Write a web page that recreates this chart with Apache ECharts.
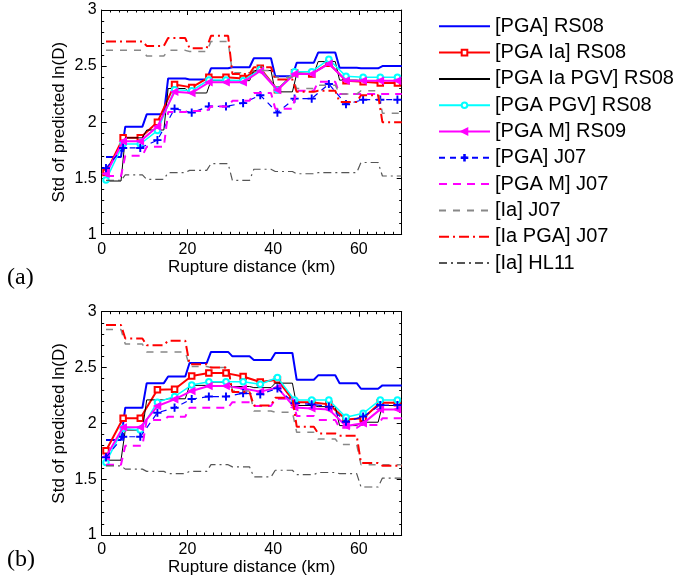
<!DOCTYPE html>
<html><head><meta charset="utf-8">
<script src="https://cdn.jsdelivr.net/npm/echarts@6/dist/echarts.min.js"></script>
<style>html,body{margin:0;padding:0;background:#fff}#c{width:678px;height:586px}</style>
</head><body><div id="c"></div>
<script>
// ---------- data ----------
const seriesNames = ['[PGA] RS08', '[PGA Ia] RS08', '[PGA Ia PGV] RS08', '[PGA PGV] RS08', '[PGA M] RS09',
                     '[PGA] J07', '[PGA M] J07', '[Ia] J07', '[Ia PGA] J07', '[Ia] HL11'];
const xTicks = [0, 20, 40, 60];
const yTicks = [1, 1.5, 2, 2.5, 3];
// sample distances (km) of the marked curves
const pointX = [1, 5, 9, 13, 17, 21, 25, 29, 33, 37, 41, 45, 49, 53, 57, 61, 65, 69];
// 5-km distance bins of the stepwise curves
const binStart = [1, 5.5, 10.5, 15.5, 20.5, 25.5, 30.5, 35.5, 40.5, 45.5, 50.5, 55.5, 60.5, 65.5];
const binEnd   = [4.5, 9.5, 14.5, 19.5, 24.5, 29.5, 34.5, 39.5, 44.5, 49.5, 54.5, 59.5, 64.5, 70];

// panel (a)
const a_PGA_RS08      = [1.69, 1.96, 2.07, 2.39, 2.38, 2.48, 2.49, 2.57, 2.41, 2.53, 2.62, 2.485, 2.48, 2.50];
const a_PGAIa_RS08    = [1.55, 1.86, 1.86, 2.00, 2.335, 2.31, 2.40, 2.40, 2.39, 2.48, 2.29, 2.44, 2.43, 2.525, 2.37, 2.36, 2.35, 2.35];
const a_PGAIaPGV_RS08 = [1.475, 1.86, 1.93, 2.30, 2.26, 2.37, 2.37, 2.46, 2.27, 2.43, 2.54, 2.375, 2.37, 2.37];
const a_PGAPGV_RS08   = [1.485, 1.805, 1.805, 1.925, 2.29, 2.28, 2.376, 2.376, 2.37, 2.47, 2.287, 2.45, 2.45, 2.56, 2.41, 2.40, 2.40, 2.40];
const a_PGAM_RS09     = [1.54, 1.83, 1.83, 1.96, 2.27, 2.26, 2.355, 2.355, 2.355, 2.456, 2.287, 2.43, 2.43, 2.52, 2.37, 2.37, 2.37, 2.37];
const a_PGA_J07       = [1.59, 1.77, 1.77, 1.84, 2.12, 2.085, 2.14, 2.14, 2.17, 2.24, 2.085, 2.21, 2.21, 2.34, 2.16, 2.20, 2.20, 2.20];
const a_PGAM_J07      = [1.52, 1.70, 1.78, 2.09, 2.10, 2.14, 2.19, 2.26, 2.12, 2.28, 2.36, 2.25, 2.25, 2.25];
const a_Ia_J07        = [2.64, 2.64, 2.59, 2.64, 2.63, 2.72, 2.44, 2.46, 2.40, 2.30, 2.33, 2.25, 2.28, 2.08];
const a_IaPGA_J07     = [2.72, 2.72, 2.68, 2.75, 2.66, 2.77, 2.43, 2.49, 2.38, 2.27, 2.28, 2.18, 2.24, 2.00];
const a_Ia_HL11       = [1.48, 1.53, 1.49, 1.55, 1.57, 1.63, 1.48, 1.58, 1.56, 1.54, 1.55, 1.55, 1.64, 1.52];

// panel (b)
const b_PGA_RS08      = [1.85, 2.14, 2.36, 2.42, 2.54, 2.64, 2.60, 2.567, 2.63, 2.39, 2.43, 2.36, 2.31, 2.34];
const b_PGAIa_RS08    = [1.755, 2.045, 2.045, 2.30, 2.305, 2.424, 2.45, 2.45, 2.42, 2.37, 2.39, 2.19, 2.19, 2.17, 2.035, 2.045, 2.185, 2.185];
const b_PGAIaPGV_RS08 = [1.67, 1.94, 2.21, 2.22, 2.34, 2.37, 2.33, 2.32, 2.36, 2.16, 2.15, 1.98, 2.01, 2.16];
const b_PGAPGV_RS08   = [1.65, 1.955, 1.94, 2.19, 2.24, 2.343, 2.373, 2.373, 2.373, 2.35, 2.41, 2.21, 2.21, 2.21, 2.054, 2.09, 2.21, 2.21];
const b_PGAM_RS09     = [1.70, 1.964, 1.964, 2.155, 2.215, 2.29, 2.334, 2.334, 2.313, 2.284, 2.32, 2.143, 2.134, 2.125, 1.976, 2.00, 2.125, 2.125];
const b_PGA_J07       = [1.695, 1.88, 1.88, 2.095, 2.14, 2.218, 2.24, 2.24, 2.27, 2.26, 2.313, 2.18, 2.17, 2.15, 2.015, 2.06, 2.164, 2.164];
const b_PGAM_J07      = [1.63, 1.80, 2.03, 2.06, 2.14, 2.14, 2.19, 2.155, 2.22, 2.066, 2.03, 1.96, 1.985, 2.045];
const b_Ia_J07        = [2.84, 2.71, 2.64, 2.64, 2.51, 2.50, 2.29, 2.11, 2.10, 1.92, 1.86, 1.81, 1.63, 1.63];
const b_IaPGA_J07     = [2.88, 2.76, 2.70, 2.74, 2.53, 2.50, 2.28, 2.16, 2.23, 1.97, 1.91, 1.89, 1.645, 1.62];
const b_Ia_HL11       = [1.62, 1.59, 1.57, 1.55, 1.57, 1.63, 1.61, 1.52, 1.58, 1.54, 1.56, 1.55, 1.43, 1.51];

// ---------- build ----------
const panelData = [
  [a_PGA_RS08, a_PGAIa_RS08, a_PGAIaPGV_RS08, a_PGAPGV_RS08, a_PGAM_RS09, a_PGA_J07, a_PGAM_J07, a_Ia_J07, a_IaPGA_J07, a_Ia_HL11],
  [b_PGA_RS08, b_PGAIa_RS08, b_PGAIaPGV_RS08, b_PGAPGV_RS08, b_PGAM_RS09, b_PGA_J07, b_PGAM_J07, b_Ia_J07, b_IaPGA_J07, b_Ia_HL11]
];
const plusPath = 'path://M4.5,0H5.5V4.5H10V5.5H5.5V10H4.5V5.5H0V4.5H4.5Z';
const styles = [
  {color:'#0000ff', width:2,   type:'solid',      symbol:'none'},
  {color:'#ff0000', width:2,   type:'solid',      symbol:'emptyRect', size:5.5},
  {color:'#000000', width:1,   type:'solid',      symbol:'none'},
  {color:'#00ffff', width:1.5, type:'solid',      symbol:'emptyCircle', size:5.5},
  {color:'#ff00ff', width:2,   type:'solid',      symbol:'triangle', size:6.5, rotate:90},
  {color:'#0000ff', width:1.2, type:[6,5],        symbol:plusPath, size:7},
  {color:'#ff00ff', width:2,   type:[8,6],        symbol:'none'},
  {color:'#888888', width:1.5, type:[7,7],        symbol:'none'},
  {color:'#ff0000', width:2,   type:[10,4,2,4],   symbol:'none'},
  {color:'#555555', width:1.2, type:[8,4,2,4],    symbol:'none'}
];

function toPoints(vals) {
  if (vals.length === pointX.length) return vals.map((v, i) => [pointX[i], v]);
  const pts = [];
  vals.forEach((v, i) => { pts.push([binStart[i], v]); pts.push([binEnd[i], v]); });
  return pts;
}

const FONT = 'Liberation Sans, Arial, sans-serif';
const grids = [
  {left: 101.7, top: 10, width: 300, height: 224.3},
  {left: 101.7, top: 311.7, width: 300, height: 223.3}
];
const xNameGap = [25, 19];

const xAxes = [], yAxes = [];
for (let g = 0; g < 2; g++) {
  ['bottom', 'top'].forEach(pos => {
    xAxes.push({
      type: 'value', gridIndex: g, position: pos, min: 0, max: 70, interval: 20,
      axisLine: {show: true, onZero: false, lineStyle: {color: '#000', width: 1}},
      axisTick: {show: true, inside: true, length: 5, lineStyle: {color: '#000'}},
      minorTick: {show: true, splitNumber: 10, length: 2.5, lineStyle: {color: '#000'}},
      splitLine: {show: false},
      axisLabel: {show: pos === 'bottom', color: '#000', fontSize: 16, fontFamily: FONT, margin: 7,
                  formatter: v => xTicks.includes(v) ? String(v) : ''},
      name: pos === 'bottom' ? 'Rupture distance (km)' : '',
      nameLocation: 'middle', nameGap: xNameGap[g],
      nameTextStyle: {color: '#000', fontSize: 17, fontFamily: FONT}
    });
  });
  ['left', 'right'].forEach(pos => {
    yAxes.push({
      type: 'value', gridIndex: g, position: pos, min: 1, max: 3, interval: 0.5,
      axisLine: {show: true, onZero: false, lineStyle: {color: '#000', width: 1}},
      axisTick: {show: true, inside: true, length: 5, lineStyle: {color: '#000'}},
      minorTick: {show: true, splitNumber: 5, length: 2.5, lineStyle: {color: '#000'}},
      splitLine: {show: false},
      axisLabel: {show: pos === 'left', color: '#000', fontSize: 16, fontFamily: FONT, margin: 5,
                  formatter: v => yTicks.includes(v) ? String(v) : ''},
      name: pos === 'left' ? 'Std of predicted ln(D)' : '',
      nameLocation: 'middle', nameGap: 34,
      nameTextStyle: {color: '#000', fontSize: 17, fontFamily: FONT}
    });
  });
}

const series = [];
for (let g = 0; g < 2; g++) {
  seriesNames.forEach((nm, k) => {
    const s = styles[k];
    series.push({
      name: nm, type: 'line', xAxisIndex: g * 2, yAxisIndex: g * 2,
      data: toPoints(panelData[g][k]),
      symbol: s.symbol, symbolSize: s.size || 4, symbolRotate: s.rotate || 0,
      showSymbol: s.symbol !== 'none',
      lineStyle: {color: s.color, width: s.width, type: s.type},
      itemStyle: {color: s.color, borderColor: s.color, borderWidth: 1.2},
      emphasis: {disabled: true}, silent: true, animation: false, z: 2 + k * 0.01
    });
  });
}

const legendData = seriesNames.map((nm, k) =>
  styles[k].symbol === 'none' ? {name: nm, itemStyle: {opacity: 0}} : {name: nm});

const chart = echarts.init(document.getElementById('c'), null, {renderer: 'canvas'});
chart.setOption({
  backgroundColor: '#fff',
  animation: false,
  grid: grids,
  xAxis: xAxes,
  yAxis: yAxes,
  legend: {
    orient: 'vertical', left: 438, top: 16.3, padding: 0,
    itemWidth: 51, itemHeight: 7, itemGap: 6.3, itemTextGap: 5,
    data: legendData,
    textStyle: {color: '#000', fontSize: 20, fontFamily: FONT, lineHeight: 20},
    selectedMode: false
  },
  graphic: [
    {type: 'text', left: 7, top: 266, style: {text: '(a)', font: '24px "Liberation Serif", "Times New Roman", serif', fill: '#000'}},
    {type: 'text', left: 7, top: 548, style: {text: '(b)', font: '24px "Liberation Serif", "Times New Roman", serif', fill: '#000'}}
  ],
  series: series
});
</script>
</body></html>
